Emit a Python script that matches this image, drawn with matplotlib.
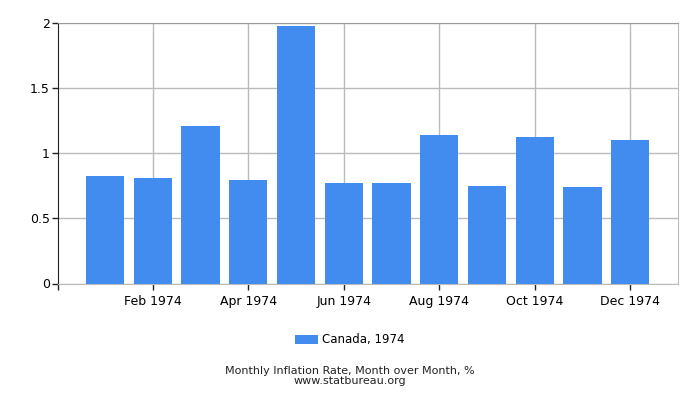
import matplotlib
matplotlib.use("Agg")
import matplotlib.pyplot as plt

# Canada, monthly inflation 1974 (month over month, %)
months = ["Jan", "Feb", "Mar", "Apr", "May", "Jun",
          "Jul", "Aug", "Sep", "Oct", "Nov", "Dec"]
values = [0.82, 0.81, 1.21, 0.79, 1.97, 0.77,
          0.77, 1.14, 0.75, 1.12, 0.74, 1.10]
year = 1974
yticks = [0, 0.5, 1, 1.5, 2]
ytick_labels = ["0", "0.5", "1", "1.5", "2"]

bar_color = "#428bef"
grid_color = "#bbbbbb"

fig = plt.figure(figsize=(7, 4), dpi=100)
ax = fig.add_axes([58 / 700, 1 - 283.5 / 400, 620 / 700, 261 / 400])

x = list(range(len(months)))
ax.bar(x, values, width=0.8, color=bar_color, zorder=3,
       label=f"Canada, {year}")

xmin, xmax = -0.985, 12.0
ax.set_xlim(xmin, xmax)
ax.set_ylim(0, 2)

# labels only on every second month (Feb, Apr, ...)
tick_pos = [i for i in x if i % 2 == 1]
ax.set_xticks(tick_pos)
ax.set_xticklabels([f"{months[i]} {year}" for i in tick_pos], fontsize=9)
ax.set_xticks([xmin], minor=True)
ax.set_yticks(yticks)
ax.set_yticklabels(ytick_labels, fontsize=9)

ax.grid(True, color=grid_color, linewidth=1, zorder=0)
ax.tick_params(axis="both", which="both", length=4, width=1,
               color="#222222", pad=2)
ax.tick_params(axis="x", pad=4)

for side in ["top", "right", "bottom"]:
    ax.spines[side].set_color(grid_color)
ax.spines["top"].set_color("#999999")
ax.spines["left"].set_color("#222222")

fig.legend(loc="center", bbox_to_anchor=(0.5, 1 - 340 / 400),
           frameon=False, fontsize=8.5, handlelength=1.9,
           handleheight=0.7, handletextpad=0.4)

fig.text(0.5, 1 - 371 / 400, "Monthly Inflation Rate, Month over Month, %",
         ha="center", va="center", fontsize=8, color="#222222")
fig.text(0.5, 1 - 381 / 400, "www.statbureau.org",
         ha="center", va="center", fontsize=8, color="#222222")

fig.savefig("out.png", dpi=100)
